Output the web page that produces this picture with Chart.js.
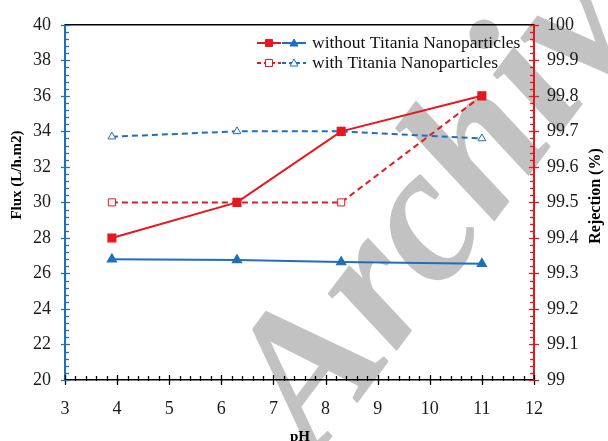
<!DOCTYPE html>
<html><head><meta charset="utf-8">
<script src="https://cdn.jsdelivr.net/npm/chart.js@4.4.1/dist/chart.umd.min.js"></script>
<style>html,body{margin:0;padding:0;background:#fff}#wrap{width:608px;height:441px}</style>
</head><body><div id="wrap"><canvas id="c" width="608" height="441"></canvas></div>
<script>
const pH = [3.9, 6.3, 8.3, 11.0];
const fluxWithout = [26.8, 26.75, 26.65, 26.55];
const fluxWith = [33.7, 34.0, 34.0, 33.6];
const rejWithout = [99.4, 99.5, 99.7, 99.8];
const rejWith = [99.5, 99.5, 99.5, 99.8];
const legendLabels = ['without Titania Nanoparticles', 'with Titania Nanoparticles'];
const xTitle = 'pH', yTitle = 'Flux (L/h.m2)', y1Title = 'Rejection (%)';
const watermark = 'Archive';

const BLUE = '#1F6FBE', RED = '#E8161E';
const SERIF = '"Liberation Serif", "Times New Roman", serif';
const pts = arr => pH.map((x, i) => ({x: x, y: arr[i]}));

const extras = {
  id: 'extras',
  beforeDraw(chart) {
    const ctx = chart.ctx;
    ctx.save();
    ctx.fillStyle = '#fff';
    ctx.fillRect(0, 0, chart.width, chart.height);
    ctx.translate(316, 458);
    ctx.rotate(-53 * Math.PI / 180);
    ctx.font = 'italic bold 195px ' + SERIF;
    ctx.fillStyle = '#c2c2c2';
    ctx.fillText(watermark, 0, 0);
    ctx.restore();
  },
  afterDraw(chart) {
    const ctx = chart.ctx;
    const xs = chart.scales.x, ys = chart.scales.y, y1 = chart.scales.y1;
    const a = chart.chartArea;
    ctx.save();
    // top frame
    ctx.strokeStyle = '#000'; ctx.lineWidth = 1.5;
    ctx.beginPath(); ctx.moveTo(a.left, a.top); ctx.lineTo(a.right, a.top); ctx.stroke();
    // x ticks
    ctx.lineWidth = 1.3;
    for (let i = 0; i <= 45; i++) {
      const v = 3 + i * 0.2, px = Math.round(xs.getPixelForValue(v)) + 0.5;
      const major = i % 5 === 0;
      ctx.beginPath();
      ctx.moveTo(px, major ? a.bottom - 5 : a.bottom - 4);
      ctx.lineTo(px, major ? a.bottom + 5 : a.bottom + 1);
      ctx.stroke();
    }
    // left ticks
    ctx.strokeStyle = BLUE;
    for (let i = 0; i <= 50; i++) {
      const v = 20 + i * 0.4, py = Math.round(ys.getPixelForValue(v)) + 0.5;
      const major = i % 5 === 0;
      ctx.beginPath();
      ctx.moveTo(major ? a.left - 4 : a.left - 1, py);
      ctx.lineTo(major ? a.left + 5 : a.left + 4, py);
      ctx.stroke();
    }
    // right ticks
    ctx.strokeStyle = RED;
    for (let i = 0; i <= 50; i++) {
      const v = 99 + i * 0.02, py = Math.round(y1.getPixelForValue(v)) + 0.5;
      const major = i % 5 === 0;
      ctx.beginPath();
      ctx.moveTo(major ? a.right - 5 : a.right - 4, py);
      ctx.lineTo(major ? a.right + 5 : a.right + 1, py);
      ctx.stroke();
    }
    // legend
    const ds = chart.data.datasets;
    const rows = [[ds[0], ds[1]], [ds[2], ds[3]]];
    const rowY = [43, 63];
    rows.forEach((pair, r) => {
      const y = rowY[r];
      pair.forEach((d, k) => {
        const x0 = 257 + k * 25, x1 = x0 + 24, xc = (x0 + x1) / 2;
        ctx.strokeStyle = d.borderColor; ctx.lineWidth = 2;
        ctx.setLineDash(d.borderDash ? [4, 3] : []);
        ctx.beginPath(); ctx.moveTo(x0, y); ctx.lineTo(x1, y); ctx.stroke();
        ctx.setLineDash([]);
        ctx.fillStyle = d.pointBackgroundColor;
        ctx.lineWidth = 1;
        ctx.strokeStyle = d.pointBorderColor;
        if (d.pointStyle === 'rect') {
          ctx.beginPath(); ctx.rect(xc - 3.5, y - 3.5, 7, 7); ctx.fill(); ctx.stroke();
        } else {
          ctx.beginPath(); ctx.moveTo(xc, y - 4); ctx.lineTo(xc + 4, y + 3); ctx.lineTo(xc - 4, y + 3); ctx.closePath(); ctx.fill(); ctx.stroke();
        }
      });
      ctx.fillStyle = '#111';
      ctx.font = '17.5px ' + SERIF;
      ctx.textAlign = 'left'; ctx.textBaseline = 'middle';
      ctx.fillText(legendLabels[r], 312, y);
    });
    // axis titles
    ctx.fillStyle = '#000';
    ctx.font = 'bold 15px ' + SERIF;
    ctx.textAlign = 'center'; ctx.textBaseline = 'alphabetic';
    ctx.fillText(xTitle, 300, 441);
    ctx.save();
    ctx.translate(17, 175); ctx.rotate(-Math.PI / 2);
    ctx.textBaseline = 'middle';
    ctx.fillText(yTitle, 0, 0);
    ctx.restore();
    ctx.save();
    ctx.font = 'bold 16px ' + SERIF;
    ctx.translate(596, 196); ctx.rotate(-Math.PI / 2);
    ctx.textBaseline = 'middle';
    ctx.fillText(y1Title, 0, 0);
    ctx.restore();
    ctx.restore();
  }
};

new Chart(document.getElementById('c'), {
  type: 'line',
  data: {
    datasets: [
      {label: legendLabels[0] + ' (Rejection)', data: pts(rejWithout), yAxisID: 'y1',
       borderColor: RED, backgroundColor: RED, borderWidth: 2,
       pointStyle: 'rect', pointRadius: 5, pointBackgroundColor: RED, pointBorderColor: RED},
      {label: legendLabels[0] + ' (Flux)', data: pts(fluxWithout), yAxisID: 'y',
       borderColor: BLUE, backgroundColor: BLUE, borderWidth: 2,
       pointStyle: 'triangle', pointRadius: 4.5, pointBackgroundColor: BLUE, pointBorderColor: BLUE},
      {label: legendLabels[1] + ' (Rejection)', data: pts(rejWith), yAxisID: 'y1',
       borderColor: RED, backgroundColor: '#fff', borderWidth: 2, borderDash: [6, 4],
       pointStyle: 'rect', pointRadius: 5, pointBackgroundColor: '#fff', pointBorderColor: RED, pointBorderWidth: 1},
      {label: legendLabels[1] + ' (Flux)', data: pts(fluxWith), yAxisID: 'y',
       borderColor: BLUE, backgroundColor: '#fff', borderWidth: 2, borderDash: [6, 4],
       pointStyle: 'triangle', pointRadius: 4.5, pointBackgroundColor: '#fff', pointBorderColor: BLUE, pointBorderWidth: 1}
    ]
  },
  options: {
    responsive: false, animation: false, devicePixelRatio: 1,
    layout: {padding: {top: 19, left: 0, right: 0, bottom: 0}},
    plugins: {legend: {display: false}, tooltip: {enabled: false}},
    scales: {
      x: {type: 'linear', min: 3, max: 12,
          ticks: {stepSize: 1, padding: 18, color: '#1a1a1a', font: {family: SERIF, size: 18}},
          grid: {display: false, drawTicks: false},
          border: {display: true, color: '#000', width: 1.5},
          afterFit: s => { s.height = 61; }},
      y: {position: 'left', min: 20, max: 40,
          ticks: {stepSize: 2, padding: 14, color: '#1a1a1a', font: {family: SERIF, size: 18}},
          grid: {display: false, drawTicks: false},
          border: {display: true, color: BLUE, width: 2},
          afterFit: s => { s.width = 65; }},
      y1: {position: 'right', min: 99, max: 100,
          ticks: {stepSize: 0.1, padding: 13, color: '#1a1a1a', font: {family: SERIF, size: 18},
                  callback: v => String(Number(v.toFixed(1)))},
          grid: {display: false, drawTicks: false},
          border: {display: true, color: RED, width: 2},
          afterFit: s => { s.width = 74; }}
    }
  },
  plugins: [extras]
});
</script></body></html>
